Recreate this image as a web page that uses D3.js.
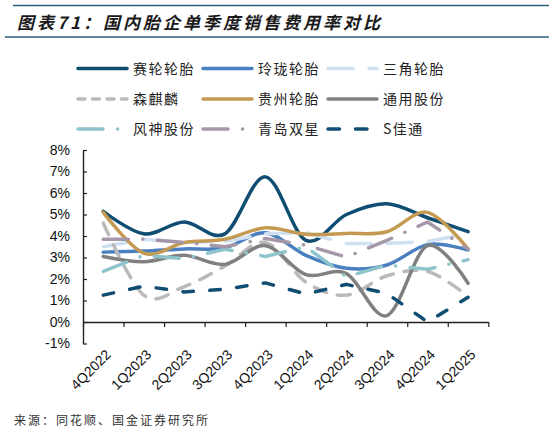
<!DOCTYPE html>
<html lang="zh">
<head>
<meta charset="UTF-8">
<title>国内胎企单季度销售费用率对比</title>
<script src="https://d3js.org/d3.v7.min.js"></script>
<style>
  body { margin: 0; background: #fff; }
  .num { font-family: "Liberation Sans", Arial, sans-serif; }
  .cn { font-family: "Noto Sans CJK SC", sans-serif; }
</style>
</head>
<body>
<script>
// quarters on the x axis
var quarters = ["4Q2022","1Q2023","2Q2023","3Q2023","4Q2023","1Q2024","2Q2024","3Q2024","4Q2024","1Q2025"];
var yTicks = [-1,0,1,2,3,4,5,6,7,8];

// sales expense ratio, %
var sailun     = [5.15, 4.1, 4.65, 4.1, 6.75, 3.8, 5.0, 5.5, 4.85, 4.2];
var linglong   = [3.25, 3.3, 3.4, 3.45, 4.15, 3.1, 2.5, 2.65, 3.6, 3.35];
var sanjiao    = [3.5, 3.85, 3.7, 3.75, 4.1, 4.15, 3.65, 3.65, 3.75, 4.1];
var senqilin   = [4.6, 1.25, 1.65, 2.6, 3.7, 1.85, 1.25, 2.15, 2.35, 1.2];
var guizhou    = [5.1, 3.2, 3.7, 3.85, 4.38, 4.08, 4.12, 4.2, 5.1, 3.4];
var tongyong   = [3.05, 2.8, 3.1, 2.68, 3.55, 2.2, 2.25, 0.3, 3.55, 1.8];
var fengshen   = [2.35, 3.1, 2.95, 3.38, 3.05, 3.5, 2.1, 2.65, 2.45, 2.9];
var shuangxing = [3.85, 3.85, 3.7, 3.5, 3.88, 3.57, 3.02, 3.8, 4.65, 3.4];
var jiatong    = [1.25, 1.67, 1.4, 1.52, 1.82, 1.3, 1.75, 1.33, 0.0, 1.15];

var names = ["赛轮轮胎","玲珑轮胎","三角轮胎","森麒麟","贵州轮胎","通用股份","风神股份","青岛双星","S佳通"];
var values = [sailun, linglong, sanjiao, senqilin, guizhou, tongyong, fengshen, shuangxing, jiatong];

// look of each series (same order as names)
var styles = [
  {color:"#0f4d73", dash:null, legendDash:null, smooth:true},
  {color:"#4a7fc0", dash:null, legendDash:null, smooth:true},
  {color:"#cfe0f2", dash:"25,16", legendDash:"25,16", smooth:false},
  {color:"#bababa", dash:"13,11", legendDash:"7,7.5", smooth:true},
  {color:"#c49a52", dash:null, legendDash:null, smooth:true},
  {color:"#808080", dash:null, legendDash:null, smooth:true},
  {color:"#8ec5cc", dash:"25,14.5,0.1,14.5", legendDash:"25,14.5,0.1,14.5", smooth:false},
  {color:"#a597a9", dash:"25,14.5,0.1,14.5", legendDash:"25,14.5,0.1,14.5", smooth:false},
  {color:"#0f4d73", dash:"10.5,16.5", legendDash:"11.5,16", smooth:false}
];

var width = 549, height = 440;
var svg = d3.select("body").append("svg").attr("width", width).attr("height", height);

// title block
svg.append("line").attr("x1",13).attr("x2",549).attr("y1",5.5).attr("y2",5.5)
  .attr("stroke","#2d5f80").attr("stroke-width",1.5);
svg.append("line").attr("x1",5).attr("x2",549).attr("y1",37).attr("y2",37)
  .attr("stroke","#2d5f80").attr("stroke-width",1.5);
svg.append("text").attr("class","cn").attr("x",17).attr("y",29)
  .attr("font-size",17).attr("font-weight","bold").attr("font-style","italic")
  .attr("letter-spacing",3).attr("fill","#1a1a1a")
  .text("图表71：国内胎企单季度销售费用率对比");

// scales
var x = d3.scaleBand().domain(quarters).range([83, 488.3]);
var xEdge = d3.scaleLinear().domain([0, quarters.length]).range([83, 488.3]);
var y = d3.scaleLinear().domain([-1, 8]).range([343.5, 150]);
var cx = function(q){ return x(q) + x.bandwidth()/2; };

// y axis
var yAxis = svg.append("g").attr("class","num").attr("transform","translate(83,0)")
  .call(d3.axisLeft(y).tickValues(yTicks).tickFormat(function(d){ return d + "%"; })
    .tickSizeInner(-4).tickSizeOuter(0).tickPadding(13));
yAxis.select(".domain").attr("stroke","#222").attr("stroke-width",1.4);
yAxis.selectAll(".tick line").attr("stroke","#222").attr("stroke-width",1.2);
yAxis.selectAll("text").attr("font-size",14).attr("fill","#111")
  .attr("font-family","Liberation Sans, Arial, sans-serif");

// x axis on the 0% line, ticks at band edges
var xAxis = svg.append("g").attr("transform","translate(0," + y(0) + ")")
  .call(d3.axisBottom(xEdge).tickValues(d3.range(0, quarters.length + 1))
    .tickFormat("").tickSizeInner(5).tickSizeOuter(0));
xAxis.select(".domain").attr("stroke","#222").attr("stroke-width",1.4);
xAxis.selectAll(".tick line").attr("stroke","#222").attr("stroke-width",1.2);

svg.append("g").selectAll("text").data(quarters).enter().append("text")
  .attr("class","num")
  .attr("transform", function(d){ return "translate(" + (cx(d) + 5) + ",352) rotate(-45)"; })
  .attr("text-anchor","end").attr("dy","0.35em")
  .attr("font-size",14).attr("fill","#111")
  .text(function(d){ return d; });

// lines
var plot = svg.append("g");
values.forEach(function(vals, i){
  var st = styles[i];
  var line = d3.line()
    .x(function(d, j){ return cx(quarters[j]); })
    .y(function(d){ return y(d); })
    .curve(st.smooth ? d3.curveCatmullRom.alpha(0) : d3.curveLinear);
  plot.append("path").datum(vals)
    .attr("d", line)
    .attr("fill","none")
    .attr("stroke", st.color)
    .attr("stroke-width", 3.5)
    .attr("stroke-linecap","round")
    .attr("stroke-linejoin","round")
    .attr("stroke-dasharray", st.dash);
});

// legend, 3 columns x 3 rows
var legX = [78, 203, 328], legY = [68.5, 99, 129];
var legend = svg.append("g");
names.forEach(function(name, i){
  var st = styles[i];
  var lx = legX[i % 3], ly = legY[Math.floor(i / 3)];
  legend.append("line").attr("x1", lx).attr("x2", lx + 49).attr("y1", ly).attr("y2", ly)
    .attr("stroke", st.color).attr("stroke-width", 3.5)
    .attr("stroke-linecap","round").attr("stroke-dasharray", st.legendDash);
  legend.append("text").attr("class","cn").attr("x", lx + 55).attr("y", ly)
    .attr("dy","0.36em").attr("font-size",14).attr("letter-spacing",1.5)
    .attr("fill","#222").text(name);
});

// source
svg.append("text").attr("class","cn").attr("x",14).attr("y",425)
  .attr("font-size",12).attr("letter-spacing",2).attr("fill","#333")
  .text("来源：同花顺、国金证券研究所");
</script>
</body>
</html>
